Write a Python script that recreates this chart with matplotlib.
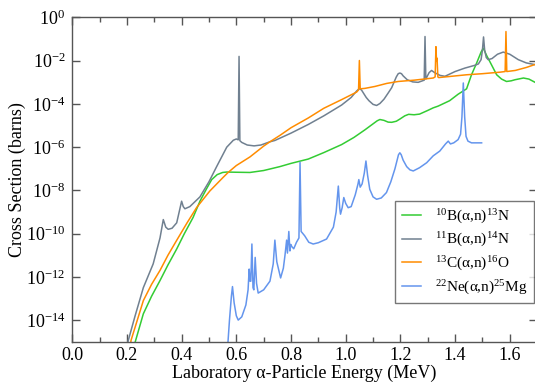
import numpy as np
import matplotlib
matplotlib.use("Agg")
import matplotlib.pyplot as plt
from matplotlib.ticker import FixedLocator, LogFormatterSciNotation, MultipleLocator

plt.rcParams["font.family"] = ["Liberation Serif", "DejaVu Serif"]
plt.rcParams["mathtext.fontset"] = "custom"
plt.rcParams["mathtext.rm"] = "Liberation Serif"
plt.rcParams["mathtext.it"] = "Liberation Serif:italic"

# energies (MeV) and log10(cross section / barns)
b10_E = [0.226, 0.26, 0.29, 0.321, 0.35, 0.382, 0.41, 0.442, 0.467, 0.49, 0.51,
         0.53, 0.55, 0.565, 0.60, 0.65, 0.70, 0.759, 0.80, 0.863, 0.92, 0.985,
         1.03, 1.07, 1.10, 1.115, 1.125, 1.14, 1.155, 1.168, 1.185, 1.198,
         1.216, 1.23, 1.25, 1.27, 1.30, 1.32, 1.338, 1.38, 1.411, 1.442, 1.46,
         1.479, 1.495, 1.503, 1.515, 1.527, 1.552, 1.57, 1.588, 1.605, 1.619,
         1.65, 1.67, 1.70]
b10_logs = [-15.2, -13.71, -12.9, -12.17, -11.45, -10.71, -10.0, -9.25, -8.5,
            -7.95, -7.5, -7.27, -7.17, -7.15, -7.16, -7.17, -7.08, -6.9, -6.75,
            -6.55, -6.25, -5.88, -5.55, -5.2, -4.92, -4.78, -4.72, -4.76, -4.84,
            -4.85, -4.8, -4.7, -4.55, -4.48, -4.5, -4.47, -4.3, -4.18, -4.1,
            -3.85, -3.55, -3.3, -2.65, -2.1, -1.6, -1.42, -1.75, -2.04, -2.65,
            -2.85, -2.96, -2.93, -2.88, -2.8, -2.85, -3.05]

b11_E = [0.198, 0.205, 0.23, 0.26, 0.296, 0.321, 0.333, 0.342, 0.351, 0.365,
         0.382, 0.400, 0.406, 0.412, 0.43, 0.467, 0.50, 0.528, 0.565, 0.589,
         0.600, 0.607, 0.610, 0.613, 0.62, 0.64, 0.665, 0.69, 0.723, 0.741,
         0.80, 0.863, 0.92, 0.985, 1.02, 1.04, 1.047, 1.052, 1.058, 1.065,
         1.075, 1.085, 1.10, 1.113, 1.125, 1.14, 1.155, 1.168, 1.185, 1.192,
         1.198, 1.204, 1.21, 1.225, 1.245, 1.265, 1.287, 1.290, 1.293, 1.305,
         1.314, 1.325, 1.345, 1.363, 1.40, 1.436, 1.47, 1.485, 1.495, 1.500,
         1.504, 1.508, 1.514, 1.521, 1.535, 1.555, 1.576, 1.60, 1.631, 1.66,
         1.70]
b11_logs = [-15.3, -14.94, -13.8, -12.5, -11.4, -10.2, -9.35, -9.7, -9.8, -9.75,
            -9.5, -8.5, -8.75, -8.85, -8.75, -8.3, -7.6, -6.9, -6.0, -5.68,
            -5.62, -5.66, -1.8, -5.7, -5.78, -5.9, -5.94, -5.9, -5.75, -5.69,
            -5.35, -4.95, -4.55, -4.05, -3.7, -3.4, -3.32, -3.3, -3.36, -3.5,
            -3.7, -3.85, -4.02, -4.07, -3.98, -3.78, -3.5, -3.25, -2.75, -2.6,
            -2.57, -2.6, -2.7, -2.88, -2.98, -3.0, -2.9, -0.88, -2.85, -2.55,
            -2.45, -2.55, -2.68, -2.72, -2.5, -2.34, -2.22, -2.15, -1.95, -1.5,
            -0.9, -1.5, -1.85, -1.95, -1.9, -1.7, -1.6, -1.7, -1.95, -2.1, -2.2]

c13_E = [0.212, 0.215, 0.26, 0.29, 0.321, 0.35, 0.381, 0.42, 0.455, 0.503, 0.55,
         0.57, 0.60, 0.65, 0.70, 0.723, 0.76, 0.80, 0.863, 0.92, 0.985, 1.04,
         1.047, 1.050, 1.053, 1.07, 1.107, 1.15, 1.192, 1.25, 1.32, 1.327,
         1.330, 1.332, 1.334, 1.337, 1.34, 1.442, 1.50, 1.564, 1.583, 1.586,
         1.589, 1.62, 1.661, 1.70]
c13_logs = [-15.3, -14.94, -13.1, -12.35, -11.7, -11.0, -10.33, -9.5, -8.79,
            -8.03, -7.42, -7.17, -6.85, -6.45, -5.95, -5.75, -5.45, -5.1, -4.65,
            -4.2, -3.8, -3.45, -3.35, -1.99, -3.3, -3.28, -3.19, -3.05, -2.96,
            -2.9, -2.8, -2.75, -1.35, -2.0, -1.88, -2.75, -2.78, -2.65, -2.6,
            -2.53, -2.5, -0.65, -2.5, -2.45, -2.31, -2.14]

ne22_E = [0.568, 0.575, 0.582, 0.586, 0.592, 0.600, 0.607, 0.62, 0.635, 0.643,
          0.647, 0.650, 0.653, 0.657, 0.661, 0.664, 0.669, 0.674, 0.680, 0.70,
          0.723, 0.735, 0.741, 0.748, 0.762, 0.772, 0.778, 0.784, 0.787, 0.792,
          0.796, 0.799, 0.803, 0.81, 0.82, 0.829, 0.833, 0.837, 0.85, 0.865,
          0.881, 0.90, 0.93, 0.955, 0.965, 0.973, 0.978, 0.981, 0.987, 0.993,
          1.000, 1.009, 1.020, 1.035, 1.045, 1.048, 1.053, 1.060, 1.068, 1.074,
          1.080, 1.088, 1.10, 1.113, 1.13, 1.149, 1.165, 1.18, 1.188, 1.193,
          1.198, 1.203, 1.21, 1.223, 1.235, 1.247, 1.27, 1.296, 1.32, 1.344,
          1.365, 1.375, 1.383, 1.395, 1.411, 1.420, 1.425, 1.430, 1.435, 1.440,
          1.447, 1.46, 1.497]
ne22_logs = [-15.3, -14.0, -12.9, -12.45, -13.2, -13.8, -14.0, -13.85, -13.3,
             -12.6, -11.64, -12.2, -12.2, -10.48, -12.5, -12.6, -11.1, -12.3,
             -12.75, -12.6, -12.2, -11.4, -10.3, -11.3, -12.05, -11.6, -11.0,
             -10.3, -10.9, -9.9, -10.8, -10.5, -10.6, -10.7, -10.4, -10.2, -6.7,
             -9.9, -10.1, -10.4, -10.48, -10.42, -10.25, -9.7, -9.0, -7.8, -8.8,
             -9.1, -8.8, -8.33, -8.6, -8.8, -8.75, -8.2, -7.7, -7.5, -7.85, -7.7,
             -7.2, -6.64, -7.3, -7.95, -8.3, -8.41, -8.35, -8.1, -7.6, -7.0,
             -6.6, -6.35, -6.26, -6.35, -6.6, -6.9, -7.05, -7.1, -6.95, -6.72,
             -6.4, -6.18, -5.85, -5.72, -5.85, -5.8, -5.65, -5.4, -4.6, -3.03,
             -4.6, -5.5, -5.72, -5.8, -5.8]

series = [
    (b10_E, b10_logs, "#33cc33", r"$^{10}$B(α,n)$^{13}$N"),
    (b11_E, b11_logs, "#708090", r"$^{11}$B(α,n)$^{14}$N"),
    (c13_E, c13_logs, "#ff8c00", r"$^{13}$C(α,n)$^{16}$O"),
    (ne22_E, ne22_logs, "#6495ed", r"$^{22}$Ne(α,n)$^{25}$Mg"),
]

fig = plt.figure(figsize=(5.35, 3.82), dpi=100)
ax = fig.add_axes([0.135, 0.1055, 0.869, 0.8487])

for E, logs, color, label in series:
    ax.plot(E, 10.0 ** np.array(logs), color=color, lw=1.1, label=label)

ax.set_yscale("log")
ax.set_xlim(0.0, 1.7)
ax.set_ylim(1e-15, 1.0)

ax.xaxis.set_major_locator(MultipleLocator(0.2))
ax.xaxis.set_minor_locator(MultipleLocator(0.1))
ax.yaxis.set_major_locator(FixedLocator([10.0 ** k for k in range(-14, 1, 2)]))
ax.yaxis.set_minor_locator(FixedLocator([]))
ax.yaxis.set_major_formatter(LogFormatterSciNotation())
ax.xaxis.set_major_formatter(matplotlib.ticker.FormatStrFormatter("%.1f"))

ax.tick_params(which="both", direction="in", top=True, right=True,
               color="#555555", labelsize=13, width=1.0)
ax.tick_params(which="major", length=6)
ax.tick_params(which="minor", length=3.6)
ax.tick_params(axis="x", pad=4)
ax.tick_params(axis="y", pad=5)
for sp in ax.spines.values():
    sp.set_color("#555555")
    sp.set_linewidth(1.0)

ax.set_xlabel("Laboratory α-Particle Energy (MeV)", fontsize=13)
ax.xaxis.set_label_coords(0.5, -0.07)
ax.set_ylabel("Cross Section (barns)", fontsize=13)
ax.yaxis.set_label_coords(-0.1, 0.5)

leg = ax.legend(loc="lower right", bbox_to_anchor=(0.9935, 0.118),
                borderaxespad=0, fancybox=False, fontsize=11,
                handlelength=1.25, labelspacing=0.35, borderpad=0.45,
                handletextpad=0.9)
leg.get_frame().set_edgecolor("#555555")
leg.get_frame().set_linewidth(1.0)

fig.savefig("out.png", dpi=100)
